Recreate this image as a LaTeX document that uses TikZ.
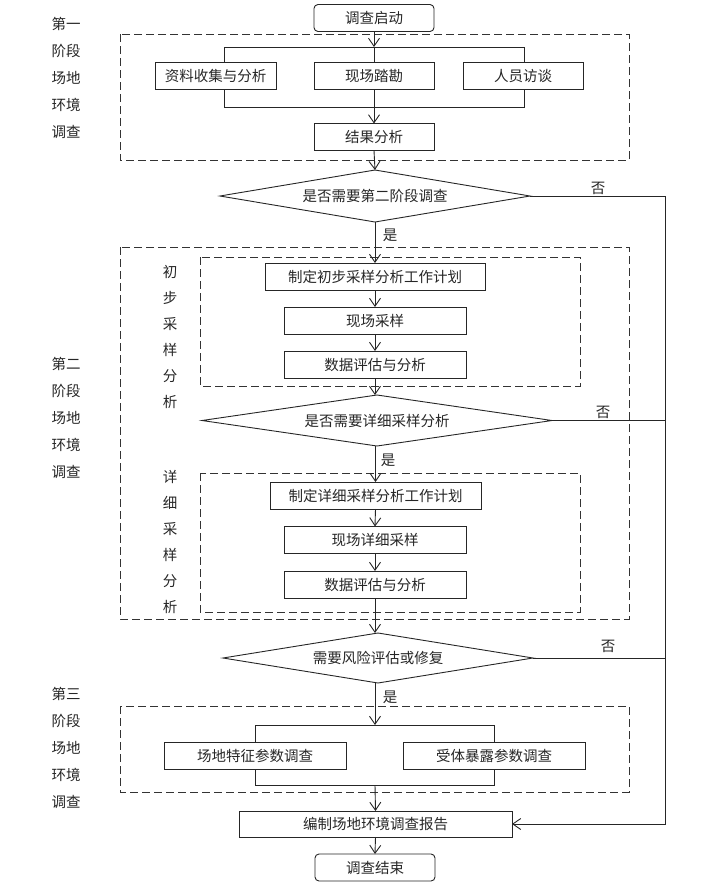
\documentclass[tikz,border=0pt]{standalone}
\usepackage{fontspec}
\setmainfont{Noto Sans CJK SC}
\usepackage{tikz}
\usetikzlibrary{shapes.geometric,arrows.meta}

\begin{document}
\begin{tikzpicture}[
            x=1pt, y=-1pt,
            font=\fontsize{14.5}{17}\selectfont, text=black!85,
            block/.style={rectangle, draw=black!85, line width=0.9pt, minimum height=27pt, inner sep=0pt, outer sep=0pt},
            terminal/.style={block, rounded corners=4pt, minimum width=120pt},
            decision/.style={diamond, draw=black!85, line width=0.9pt, aspect=6, inner sep=0pt, outer sep=0pt},
            arrow/.style={line width=0.9pt, draw=black!85, -{Straight Barb[length=8pt,width=11pt]}},
            link/.style={line width=0.9pt, draw=black!85},
            groupbox/.style={draw=black!80, line width=0.9pt, dash pattern=on 8pt off 4pt},
            stage/.style={align=center, font=\fontsize{14.5}{27}\selectfont},
            sublabel/.style={align=center, font=\fontsize{14.5}{26}\selectfont},
            answer/.style={inner sep=0pt}
        ]
            \useasboundingbox (0,0) rectangle (717,892);

            % Stage labels
            \node[stage] (stage1) at (66,78) {第一\\阶段\\场地\\环境\\调查};
            \node[stage] (stage2) at (66,418) {第二\\阶段\\场地\\环境\\调查};
            \node[stage] (stage3) at (66,748) {第三\\阶段\\场地\\环境\\调查};
            \node[sublabel] (sub1) at (170,337) {初\\步\\采\\样\\分\\析};
            \node[sublabel] (sub2) at (170,541.5) {详\\细\\采\\样\\分\\析};

            % Group boxes
            \draw[groupbox] (120,34) rectangle (629,160);
            \draw[groupbox] (120,247) rectangle (629,619);
            \draw[groupbox] (200,257) rectangle (580,386);
            \draw[groupbox] (200,473) rectangle (580,612);
            \draw[groupbox] (120,706) rectangle (629,792);

            % First stage
            \node[terminal] (start) at (374,18) {调查启动};
            \node[block, minimum width=121pt] (collect) at (215.5,76) {资料收集与分析};
            \node[block, minimum width=120pt] (survey) at (374,76) {现场踏勘};
            \node[block, minimum width=120pt] (interview) at (523,76) {人员访谈};
            \node[block, minimum width=120pt] (result) at (374,137) {结果分析};
            \coordinate (split1) at (374,47);
            \coordinate (split1L) at (224,47);
            \coordinate (split1R) at (524,47);
            \coordinate (merge1) at (374,107);
            \coordinate (merge1L) at (224,107);
            \coordinate (merge1R) at (524,107);

            \draw[arrow] (start.south) -- (split1);
            \draw[link] (split1L |- collect.north) -- (split1L) -- (split1R) -- (split1R |- interview.north);
            \draw[link] (split1) -- (survey.north);
            \draw[link] (merge1L |- collect.south) -- (merge1L) -- (merge1R) -- (merge1R |- interview.south);
            \draw[link] (survey.south) -- (merge1);
            \draw[arrow] (merge1) -- (result.north);

            % First decision
            \node[decision, minimum width=310pt, minimum height=52pt] (ask2) at (375,196) {是否需要第二阶段调查};
            \draw[arrow] (result.south) -- (ask2.north);

            % Second stage, first part
            \node[block, minimum width=220pt] (plan1) at (375,276.5) {制定初步采样分析工作计划};
            \node[block, minimum width=182pt] (sample1) at (375,320.5) {现场采样};
            \node[block, minimum width=182pt] (eval1) at (375,364.5) {数据评估与分析};
            \draw[arrow] (ask2.south) -- (plan1.north);
            \draw[arrow] (plan1.south) -- (sample1.north);
            \draw[arrow] (sample1.south) -- (eval1.north);

            % Second decision
            \node[decision, minimum width=350pt, minimum height=51pt] (askdetail) at (377,420.5) {是否需要详细采样分析};
            \draw[arrow] (eval1.south) -- (askdetail.north -| eval1.south);

            % Second stage, detailed part
            \node[block, minimum width=211pt] (plan2) at (375.5,495.5) {制定详细采样分析工作计划};
            \node[block, minimum width=182pt] (sample2) at (375,540) {现场详细采样};
            \node[block, minimum width=182pt] (eval2) at (375,584.5) {数据评估与分析};
            \draw[arrow] (askdetail.south -| plan2.north) -- (plan2.north);
            \draw[arrow] (plan2.south) -- (sample2.north);
            \draw[arrow] (sample2.south) -- (eval2.north);

            % Third decision
            \node[decision, minimum width=310pt, minimum height=50pt] (askrisk) at (378,658) {需要风险评估或修复};
            \draw[arrow] (eval2.south) -- (askrisk.north -| eval2.south);

            % Third stage
            \coordinate (split3) at (375,725);
            \coordinate (merge3) at (375,785);
            \node[block, minimum width=182pt] (siteparam) at (255,755.5) {场地特征参数调查};
            \node[block, minimum width=182pt] (exposure) at (494,755.5) {受体暴露参数调查};
            \draw[arrow] (askrisk.south -| split3) -- (split3);
            \draw[link] (siteparam.north) -- (siteparam.north |- split3) -- (exposure.north |- split3) -- (exposure.north);
            \draw[link] (siteparam.south) -- (siteparam.south |- merge3) -- (exposure.south |- merge3) -- (exposure.south);

            % Report and end
            \node[block, minimum width=273pt, minimum height=26pt] (report) at (375.5,824) {编制场地环境调查报告};
            \node[terminal] (finish) at (375,867.5) {调查结束};
            \draw[arrow] (merge3) -- (report.north);
            \draw[arrow] (report.south) -- (finish.north);

            % No branches
            \coordinate (rail) at (665,824);
            \draw[arrow] (ask2.east) -| (rail) -- (report.east);
            \draw[link] (askdetail.east) -- (askdetail.east -| rail);
            \draw[link] (askrisk.east) -- (askrisk.east -| rail);

            % Yes / no labels
            \node[answer] (no1) at (598,188) {否};
            \node[answer] (no2) at (603,412) {否};
            \node[answer] (no3) at (608,646) {否};
            \node[answer] (yes1) at (390,235) {是};
            \node[answer] (yes2) at (388,460) {是};
            \node[answer] (yes3) at (390,697) {是};

        \end{tikzpicture}
\end{document}
